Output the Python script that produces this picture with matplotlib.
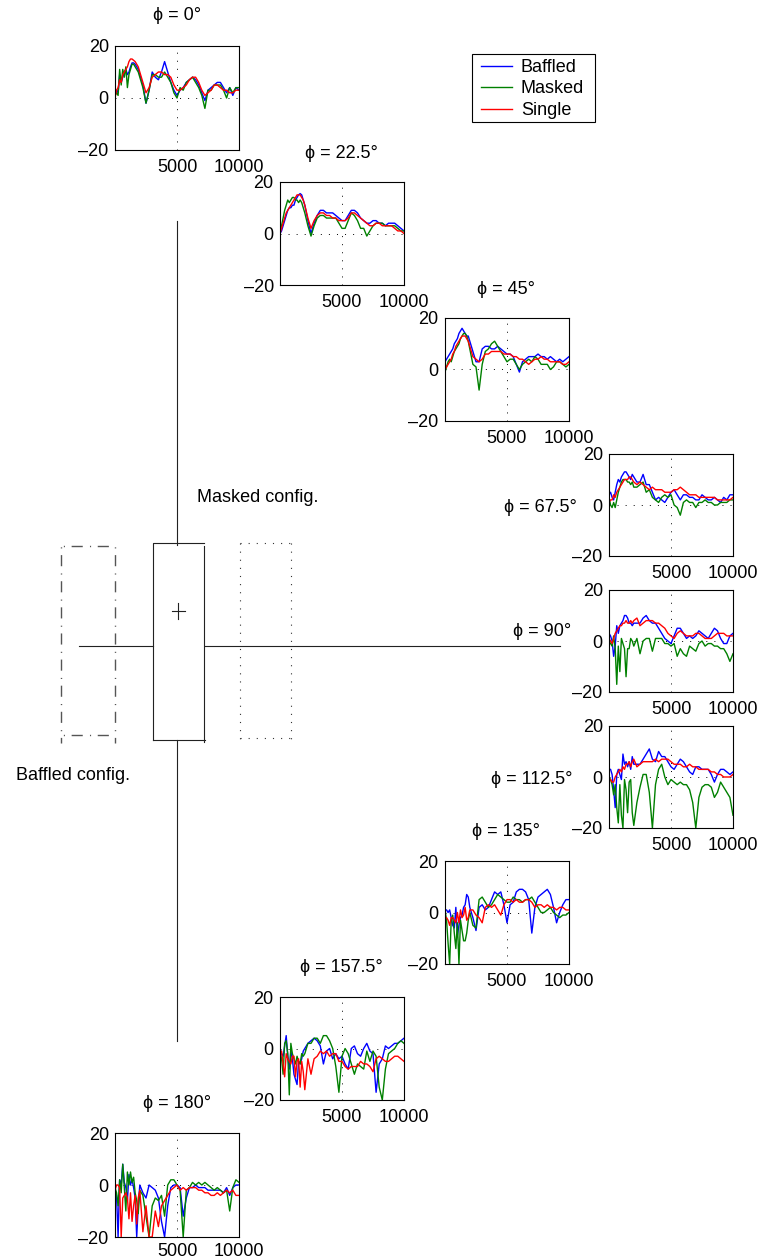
import matplotlib
matplotlib.use("Agg")
from matplotlib import pyplot as plt
from matplotlib.patches import Rectangle

plt.rcParams["font.family"] = ["Liberation Sans", "DejaVu Sans"]
plt.rcParams["font.size"] = 13

W, H = 763, 1260

freq = [0, 125, 250, 375, 500, 625, 750, 875, 1000, 1125, 1250, 1375, 1500, 1625, 1750, 1875, 2000,
        2250, 2500, 2750, 3000, 3250, 3500, 3750, 4000,
        4250, 4500, 4750, 5000, 5250, 5500, 5750, 6000,
        6250, 6500, 6750, 7000, 7250, 7500, 7750, 8000,
        8250, 8500, 8750, 9000, 9250, 9500, 9750, 10000]

series_names = ["Baffled", "Masked", "Single"]
series_colors = ["#0000ff", "#008000", "#ff0000"]

# phi = 0
b0 = [1, 3, 2, 9, 6, 8, 10, 11, 9, 10, 12, 13.5, 13.5, 13, 12, 11, 9,
      5, -2, 3, 10, 8, 7, 10, 14, 10, 6, 3, 1, 3, 4, 6, 7,
      8, 7, 5, 2, -1, 3, 4, 5, 6, 6, 4, 2, 4, 1, 4, 3]
g0 = [1, 2, 1, 11, 5, 11, 8, 12, 4, 9, 11, 13, 13, 12, 11, 10, 8,
      4, -2, 3, 9, 9, 8, 8, 10, 8, 6, 2, 0, 4, 3, 6, 7,
      8, 6, 4, 1, -4, 3, 3, 5, 5, 5, 3, 0, 4, 2, 4, 4]
r0 = [0, 3, 4, 7, 6, 9, 10, 11, 12, 14, 15, 15, 14.5, 14, 13, 12, 10,
      6, 2, 4, 8, 9, 10, 10, 9, 9, 8, 5, 3, 3, 4, 5, 7,
      8, 8, 6, 3, 1, 2, 3, 5, 5, 4, 3, 3, 2, 2, 3, 3]

# phi = 22.5
b1 = [0, 1, 3, 5, 7, 9, 10, 10, 11, 11, 13, 14, 15, 15.5, 15, 13, 11,
      5, 0, 4, 7, 9, 9, 8, 8, 8, 7, 6, 5, 5, 7, 9, 9,
      8, 6, 5, 4, 4, 5, 5, 4, 4, 3, 4, 4, 4, 3, 2, 1]
g1 = [1, 3, 6, 9, 11, 13, 12, 13, 14, 14, 13, 13, 12, 13, 12, 10, 8,
      3, -1, 3, 6, 7, 7, 6, 6, 6, 6, 4, 2, 2, 5, 8, 7,
      5, 2, 2, -1, 1, 3, 4, 4, 4, 3, 3, 3, 3, 2, 1, 1]
r1 = [0, 2, 4, 6, 8, 9, 10, 11, 12, 13, 14, 15, 15, 15, 14, 13, 11,
      6, 2, 5, 7, 8, 8, 7, 7, 6, 6, 5, 5, 5, 6, 8, 8,
      7, 6, 5, 4, 3, 3, 4, 4, 3, 3, 3, 3, 2, 1, 1, 0]

# phi = 45
b2 = [3, 4, 5, 6, 7, 8, 10, 11, 12, 14, 15, 16, 15, 14, 13, 13, 11,
      7, 3, 3, 8, 9, 9, 8, 8, 9, 8, 7, 6, 6, 5, 2, -1,
      3, 4, 5, 5, 5, 6, 5, 5, 4, 5, 4, 3, 4, 3, 4, 5]
g2 = [-1, 1, 3, 4, 3, 5, 7, 8, 9, 10, 12, 13, 14, 14, 13, 11, 8,
      2, 1, -8, 2, 7, 8, 10, 11, 9, 7, 5, 3, 4, 4, 2, 0,
      2, 3, 4, 3, 5, 4, 2, 2, 2, 0, 1, 3, 3, 2, 1, 2]
r2 = [0, 1, 2, 3, 4, 6, 7, 9, 10, 11, 12, 13, 13, 13, 12, 11, 9,
      5, 4, 3, 4, 6, 6, 7, 7, 7, 7, 6, 6, 6, 5, 5, 4,
      4, 3, 2, 3, 4, 4, 5, 4, 4, 3, 3, 3, 3, 2, 2, 3]

# phi = 67.5
b3 = [4, 5, 3, 2, 5, 8, 10, 9, 11, 12, 13, 13, 12, 11, 10, 12, 11,
      9, 9, 12, 8, 8, 5, 2, 3, 2, 1, 3, 5, 6, 4, 2, 4,
      4, 3, 3, 2, 2, 4, 3, 2, 2, 3, 2, 1, 3, 2, 4, 4]
g3 = [3, 0, -1, 1, -1, 2, 5, 7, 9, 10, 10, 10, 9, 9, 8, 9, 7,
      7, 8, 9, 5, 6, 3, 2, 1, 3, 4, 3, 4, 0, -1, -4, 1,
      2, 1, 1, -1, 1, 1, 2, 1, 1, 0, 0, 1, 1, 1, 2, 2]
r3 = [1, 2, 2, 4, 3, 5, 6, 7, 8, 9, 10, 10, 10, 11, 11, 10, 9,
      8, 9, 8, 7, 6, 7, 6, 6, 6, 5, 5, 5, 6, 6, 7, 6,
      5, 4, 4, 4, 3, 3, 3, 3, 3, 3, 2, 2, 2, 2, 2, 3]

# phi = 90
b4 = [3, 2, 0, -6, -2, 6, 3, 6, 7, 8, 10, 10, 9, 7, 7, 6, 7,
      7, 7, 9, 10, 8, 7, 7, 5, 3, 1, 0, -1, 2, 5, 5, 3,
      1, 2, 1, 2, 4, 3, 2, 1, 3, 5, 4, 1, -1, -1, 2, 3]
g4 = [0, -1, -2, 2, -3, -17, -2, -12, 1, -1, -3, -14, -3, -3, 1, 0, -2,
      1, -5, 0, 1, 1, -4, 1, 1, 1, -1, -1, -2, -1, -6, -3, -5,
      -6, -2, -3, -4, -1, 0, -2, -1, -1, -2, -2, -3, -3, -5, -8, -5]
r4 = [1, 0, -1, 1, 3, 4, 5, 6, 6, 7, 7, 8, 7, 7, 8, 7, 8,
      9, 6, 7, 8, 8, 8, 7, 7, 6, 5, 3, 2, 1, 3, 4, 3,
      2, 2, 2, 3, 3, 2, 1, 1, 1, 2, 3, 3, 3, 2, 2, 2]

# phi = 112.5
b5 = [3, 3, 1, -5, -12, 1, 3, 1, -1, 9, 5, 6, 4, 6, 3, 8, 5,
      5, 5, 7, 9, 11, 7, 6, 10, 8, 8, 6, 4, 3, 5, 7, 6,
      4, 2, 1, 4, 4, 3, 3, 3, 1, -2, 1, 3, 3, 2, 1, 2]
g5 = [0, -1, -3, -7, -3, -12, -18, -3, -15, -20, -1, -5, -14, -2, -1, -14, -19,
      -10, -4, 1, 1, -6, -20, -3, 3, 5, 0, -3, -1, -2, -3, -2, -3,
      -3, -5, -10, -20, -8, -4, -3, -3, -4, -8, -6, -2, -4, -6, -8, -15]
r5 = [-1, -1, -2, -2, 0, 1, 2, 3, 2, 4, 3, 5, 5, 6, 4, 6, 7,
      4, 5, 6, 6, 6, 6, 7, 6, 7, 7, 7, 6, 5, 5, 5, 4,
      4, 5, 4, 4, 3, 3, 3, 3, 2, 2, 1, 1, 0, 0, 0, 1]

# phi = 135
b6 = [1, 1, 0, 1, -2, -5, -6, 2, -9, -5, -2, -1, 2, 3, 7, 6, 2,
      -2, -7, 2, 3, 1, 2, 5, 8, 7, 8, 3, -4, 3, 4, 8, 9,
      9, 8, 5, -8, 2, 6, 7, 8, 9, 7, 2, -4, 0, 3, 5, 5]
g6 = [1, -3, -12, -20, -3, -1, -8, -14, -4, -20, -3, -7, -11, -11, -8, -3, 0,
      -5, -6, 5, 6, 4, 2, 3, 5, 7, 6, 5, 4, 4, 6, 5, 5,
      4, 5, 5, 6, 4, 2, 0, 0, 1, 2, 0, -1, -2, -1, -1, 0]
r6 = [-2, -2, -3, -5, -2, -2, -3, -4, 0, -4, 1, -2, -1, 2, -3, -2, 1,
      1, -1, -2, -4, 2, 3, 2, 3, 1, -1, 3, 5, 5, 4, 5, 4,
      4, 5, 5, 4, 2, 3, 3, 2, 3, 2, 2, 1, 2, 2, 1, 1]

# phi = 157.5
b7 = [0, -2, -3, 1, 5, -3, -8, -1, -4, -10, -12, -14, -5, -6, -4, -1, 0,
      2, 3, 4, 3, 1, -6, -1, 0, -4, -2, -4, -3, -6, -8, 0, 1,
      -2, -3, 0, 2, -1, -2, -17, -6, -4, 1, 0, 1, 2, 2, 3, 4]
g7 = [-1, -4, -10, 2, 3, -2, -18, 2, -2, -4, -6, -3, -5, -6, -2, -3, -2,
      2, 2, 4, 4, 2, 5, 5, 3, 0, -7, -17, -3, 0, -2, -6, -10,
      -6, -7, -8, -1, -5, -1, -3, -15, -20, -8, -2, -1, 0, 2, 3, 2]
r7 = [-3, -1, -6, -11, -2, -4, -5, -6, -3, -3, -11, -5, -4, -15, -5, -9, -16,
      -4, -10, -4, -3, -1, -2, -1, -3, -2, -2, -5, -5, -7, -8, -7, -7,
      -7, -5, -6, -6, -7, -9, -4, -3, -4, -5, -5, -4, -3, -3, -4, -5]

# phi = 180
b8 = [-2, -4, -20, 2, 0, 8, 1, -1, -6, 4, 0, 2, -1, -5, -20, -8, 0,
      -3, -5, 0, -1, -2, -5, -14, -20, -8, -1, 0, 0, -1, -12, -5, -1,
      -1, 0, -1, -1, -1, -2, -2, -2, -2, -2, -3, -1, -4, -1, 0, 0]
g8 = [-1, -3, -8, 2, -3, 8, -1, -10, 5, 0, 5, 1, 3, -3, -6, -11, -2,
      -4, -12, -20, -8, -5, -6, -4, -12, 0, 2, 2, 0, -2, -20, -2, -1,
      1, 0, 1, 0, 1, 0, -1, -2, -1, -2, -3, -2, -10, -1, 2, 1]
r8 = [-2, 0, 0, -1, -20, -5, -4, -3, -5, -13, -3, -14, -8, -4, -15, -5, -2,
      -18, -8, -20, -20, -10, -16, -8, -6, -4, -2, -1, 0, -2, -1, -2, -1,
      -1, -1, -2, -2, -3, -3, -4, -4, -3, -4, -3, -2, -3, -2, -4, -4]

xtick_vals = [5000, 10000]
ytick_vals = [-20, 0, 20]
ytick_labels = ["\u201320", "0", "20"]


def add_panel(left, right, top, bottom, curves, xpad=6.7):
    ax = fig.add_axes([left / W, 1 - bottom / H, (right - left) / W, (bottom - top) / H])
    for y, c in zip(curves, series_colors):
        ax.plot(freq, y, color=c, lw=1.0)
    ax.set_xlim(0, 10000)
    ax.set_ylim(-20, 20)
    ax.set_xticks(xtick_vals)
    ax.set_yticks(ytick_vals)
    ax.set_yticklabels(ytick_labels)
    ax.tick_params(length=0, pad=4.5)
    ax.tick_params(axis="x", pad=xpad)
    ax.grid(True, color="black", lw=0.7, linestyle=(0, (1, 7.3)))
    ax.set_axisbelow(True)
    return ax


fig = plt.figure(figsize=(W / 100, H / 100), dpi=100)

# schematic underneath, in pixel coordinates
bg = fig.add_axes([0, 0, 1, 1])
bg.set_xlim(0, W)
bg.set_ylim(H, 0)
bg.axis("off")

line = {"color": "#222222", "lw": 0.8}
bg.plot([176.5, 176.5], [221, 545], **line)
bg.plot([176.5, 176.5], [740, 1041], **line)
bg.plot([79, 153], [646, 646], **line)
bg.plot([205, 560], [646, 646], **line)
bg.plot([153, 153, 204], [740, 542.5, 542.5], **line)
bg.plot([153, 205], [740, 740], **line)
bg.plot([203.5, 203.5], [545.5, 742], **line)
bg.plot([172, 185], [611, 611], **line)
bg.plot([178, 178], [603, 619], **line)

dd = {"color": "#555555", "lw": 1.0}
bg.plot([61, 61], [545.5, 742.5], linestyle=(12.6, (8, 5.2, 0.8, 4.8)), **dd)
bg.plot([115, 115], [545.5, 742.5], linestyle=(12.6, (8, 5.2, 0.8, 4.8)), **dd)
bg.plot([61, 115], [545.5, 545.5], linestyle=(11.5, (8, 5.2, 0.8, 4.8)), **dd)
bg.plot([61, 115], [734.5, 734.5], linestyle=(11.5, (8, 5.2, 0.8, 4.8)), **dd)

dotted = {"color": "#333333", "lw": 0.8, "linestyle": (0, (1, 6.3))}
bg.plot([240, 240], [542.5, 741], **dotted)
bg.plot([290.5, 290.5], [542.5, 741], **dotted)
bg.plot([240, 290.5], [542.5, 542.5], **dotted)
bg.plot([240, 290.5], [737.5, 737.5], **dotted)

bg.text(197, 498, "Masked config.", va="center")
bg.text(16, 776, "Baffled config.", va="center")

bg.text(177, 16, "\u03d5 = 0\u00b0", ha="center", va="center")
bg.text(341, 153, "\u03d5 = 22.5\u00b0", ha="center", va="center")
bg.text(506, 289, "\u03d5 = 45\u00b0", ha="center", va="center")
bg.text(540, 507, "\u03d5 = 67.5\u00b0", ha="center", va="center")
bg.text(542, 631, "\u03d5 = 90\u00b0", ha="center", va="center")
bg.text(532, 779, "\u03d5 = 112.5\u00b0", ha="center", va="center")
bg.text(506, 832, "\u03d5 = 135\u00b0", ha="center", va="center")
bg.text(341, 967, "\u03d5 = 157.5\u00b0", ha="center", va="center")
bg.text(177, 1104, "\u03d5 = 180\u00b0", ha="center", va="center")

# legend box
bg.add_patch(Rectangle((472, 54), 123, 68, fc="white", ec="black", lw=0.8))
for name, c, ypos in zip(series_names, series_colors, [66, 87, 109]):
    bg.plot([481, 512], [ypos, ypos], color=c, lw=1.0)
    bg.text(521, ypos + 1.5, name, va="center")

add_panel(115, 239, 46, 150, [b0, g0, r0])
add_panel(280, 404, 182, 285, [b1, g1, r1])
add_panel(445, 569, 318, 421, [b2, g2, r2])
add_panel(609, 733, 454, 556, [b3, g3, r3])
add_panel(609, 733, 590, 692, [b4, g4, r4])
add_panel(609, 733, 726, 828, [b5, g5, r5])
add_panel(445, 569, 861, 964, [b6, g6, r6])
add_panel(280, 404, 997, 1100, [b7, g7, r7])
add_panel(115, 239, 1133, 1237, [b8, g8, r8], xpad=4.5)

fig.savefig("out.png", dpi=100)
